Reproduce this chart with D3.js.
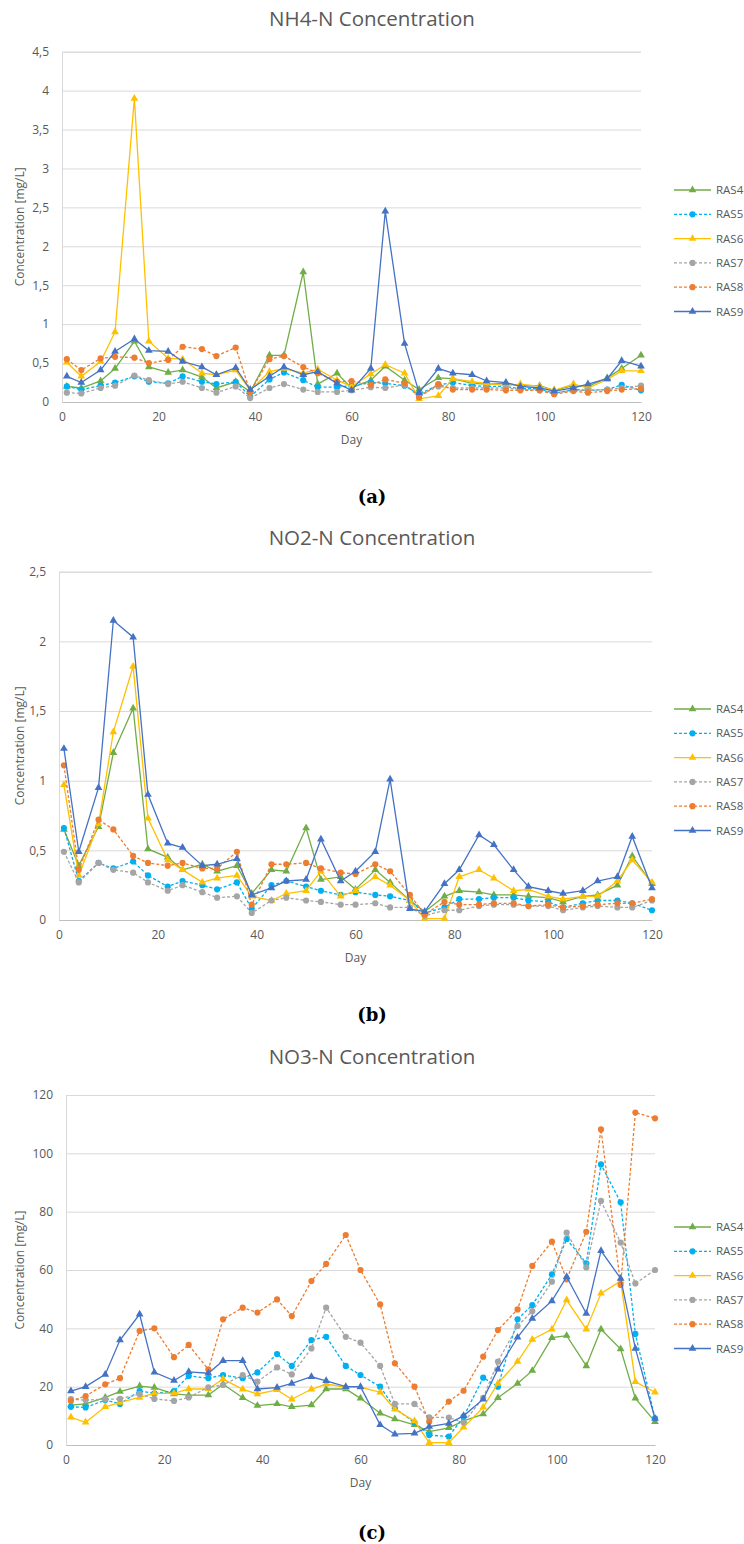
<!DOCTYPE html>
<html>
<head>
<meta charset="utf-8">
<script src="https://cdn.jsdelivr.net/npm/d3@7"></script>
<style>
  body { margin: 0; background: #fff; }
  svg  { display: block; font-family: "Open Sans", sans-serif; }
</style>
</head>
<body>
<svg id="fig" width="744" height="1544"></svg>
<script>
// sampling days (same for all three charts)
const days = [1,4,8,11,15,18,22,25,29,32,36,39,43,46,50,53,57,60,64,67,71,74,78,81,85,88,92,95,99,102,106,109,113,116,120];
const seriesNames = ['RAS4','RAS5','RAS6','RAS7','RAS8','RAS9'];
const xTicks = [0,20,40,60,80,100,120];

// (a) NH4-N
const nh4RAS4 = [0.20,0.18,0.27,0.43,0.78,0.45,0.38,0.41,0.32,0.18,0.26,0.13,0.60,0.60,1.67,0.23,0.37,0.18,0.28,0.46,0.28,0.16,0.31,0.30,0.24,0.23,0.24,0.21,0.21,0.15,0.21,0.20,0.31,0.43,0.60];
const nh4RAS5 = [0.20,0.16,0.21,0.25,0.33,0.26,0.24,0.33,0.26,0.23,0.26,0.07,0.29,0.38,0.28,0.19,0.19,0.21,0.25,0.24,0.21,0.10,0.22,0.25,0.21,0.20,0.20,0.17,0.17,0.11,0.16,0.15,0.16,0.22,0.15];
const nh4RAS6 = [0.51,0.33,0.52,0.90,3.90,0.78,0.56,0.55,0.37,0.35,0.41,0.15,0.39,0.43,0.37,0.42,0.28,0.20,0.36,0.48,0.37,0.04,0.08,0.30,0.26,0.24,0.21,0.23,0.20,0.15,0.23,0.18,0.29,0.40,0.40];
const nh4RAS7 = [0.12,0.11,0.18,0.21,0.34,0.28,0.23,0.26,0.18,0.12,0.20,0.05,0.18,0.23,0.16,0.13,0.13,0.15,0.19,0.18,0.22,0.09,0.20,0.18,0.18,0.18,0.18,0.16,0.15,0.12,0.15,0.15,0.16,0.18,0.21];
const nh4RAS8 = [0.55,0.41,0.56,0.58,0.57,0.50,0.54,0.71,0.68,0.59,0.70,0.13,0.55,0.59,0.45,0.37,0.26,0.27,0.22,0.29,0.24,0.06,0.23,0.16,0.16,0.16,0.15,0.15,0.15,0.10,0.14,0.12,0.14,0.16,0.17];
const nh4RAS9 = [0.33,0.25,0.41,0.65,0.81,0.66,0.65,0.52,0.45,0.35,0.44,0.16,0.33,0.45,0.35,0.39,0.24,0.15,0.43,2.45,0.75,0.12,0.43,0.37,0.35,0.27,0.25,0.20,0.18,0.14,0.18,0.23,0.30,0.53,0.46];
const nh4Ticks = [0,0.5,1,1.5,2,2.5,3,3.5,4,4.5];

// (b) NO2-N
const no2RAS4 = [0.65,0.39,0.67,1.20,1.52,0.51,0.45,0.36,0.40,0.35,0.39,0.19,0.36,0.35,0.66,0.29,0.31,0.22,0.36,0.27,0.14,0.06,0.17,0.21,0.20,0.18,0.18,0.17,0.16,0.13,0.17,0.18,0.25,0.46,0.26];
const no2RAS5 = [0.66,0.28,0.41,0.37,0.42,0.32,0.24,0.28,0.25,0.22,0.27,0.08,0.25,0.28,0.24,0.21,0.18,0.20,0.18,0.17,0.14,0.05,0.09,0.15,0.15,0.16,0.16,0.14,0.13,0.09,0.12,0.14,0.14,0.12,0.07];
const no2RAS6 = [0.97,0.32,0.69,1.35,1.82,0.73,0.43,0.36,0.27,0.30,0.32,0.17,0.14,0.19,0.21,0.35,0.17,0.21,0.31,0.25,0.14,0.01,0.01,0.31,0.36,0.30,0.21,0.22,0.17,0.15,0.17,0.17,0.28,0.43,0.27];
const no2RAS7 = [0.49,0.27,0.41,0.36,0.34,0.27,0.21,0.25,0.20,0.16,0.17,0.05,0.14,0.16,0.14,0.13,0.11,0.11,0.12,0.09,0.09,0.03,0.07,0.07,0.10,0.11,0.11,0.10,0.10,0.07,0.09,0.10,0.09,0.09,0.14];
const no2RAS8 = [1.11,0.36,0.72,0.65,0.46,0.41,0.39,0.41,0.37,0.37,0.49,0.11,0.40,0.40,0.41,0.37,0.34,0.33,0.40,0.35,0.18,0.04,0.13,0.11,0.11,0.12,0.12,0.10,0.11,0.09,0.10,0.11,0.12,0.12,0.15];
const no2RAS9 = [1.23,0.49,0.95,2.15,2.03,0.90,0.55,0.52,0.39,0.40,0.44,0.18,0.23,0.28,0.29,0.58,0.28,0.35,0.49,1.01,0.08,0.06,0.26,0.36,0.61,0.54,0.36,0.24,0.21,0.19,0.21,0.28,0.31,0.60,0.23];
const no2Ticks = [0,0.5,1,1.5,2,2.5];

// (c) NO3-N
const no3RAS4 = [13.7,14.1,16.3,18.3,20.2,19.7,17.5,17.1,17.1,20.8,16.2,13.5,14.1,13.1,13.7,19.2,19.2,16.0,10.9,8.9,6.9,4.6,5.9,8.3,10.6,16.2,21.1,25.5,36.8,37.5,27.1,39.7,32.9,16.0,8.0];
const no3RAS5 = [13.1,12.9,15.4,14.1,18.5,17.7,18.5,23.7,22.9,24.0,22.9,24.9,31.2,27.1,36.0,37.1,27.1,24.0,20.0,12.6,7.7,3.4,2.9,9.7,23.1,20.0,43.1,48.0,58.5,70.6,62.3,96.2,83.2,38.1,9.1];
const no3RAS6 = [9.5,7.8,13.1,14.6,16.3,17.7,17.7,19.2,19.2,22.6,19.1,17.5,18.9,15.7,19.1,20.9,19.8,19.8,18.1,12.3,8.2,0.8,0.8,6.1,12.9,21.1,28.6,36.2,39.7,49.7,39.7,52.0,56.2,21.7,18.1];
const no3RAS7 = [15.7,15.4,15.7,15.8,17.5,15.8,15.1,16.3,19.8,20.6,24.0,21.7,26.6,24.2,33.1,47.1,37.1,35.1,27.1,14.1,14.1,9.5,9.4,7.7,16.2,28.6,40.8,45.9,56.0,72.8,60.9,83.7,69.4,55.4,60.0];
const no3RAS8 = [15.1,16.8,20.8,22.9,39.1,40.0,30.1,34.3,25.9,43.1,47.1,45.4,49.9,44.2,56.2,62.1,72.0,60.0,48.2,28.0,20.0,8.0,14.9,18.6,30.3,39.4,46.5,61.4,69.7,56.8,73.1,108.2,54.9,114.0,112.0];
const no3RAS9 = [18.5,20.0,24.2,36.0,44.8,24.9,22.1,25.1,24.6,28.9,28.9,19.2,19.7,21.1,23.4,22.0,20.0,20.0,6.9,3.7,4.0,6.3,7.4,10.0,15.7,26.0,36.9,43.4,49.4,57.7,45.1,66.6,57.1,33.1,9.1];
const no3Ticks = [0,20,40,60,80,100,120];

// series look (Excel default palette)
const seriesStyle = {
  RAS4: { color: '#70ad47', dash: null,  shape: d3.symbolTriangle },
  RAS5: { color: '#00b0f0', dash: '3,2', shape: d3.symbolCircle },
  RAS6: { color: '#ffc000', dash: null,  shape: d3.symbolTriangle },
  RAS7: { color: '#a5a5a5', dash: '3,2', shape: d3.symbolCircle },
  RAS8: { color: '#ed7d31', dash: '3,2', shape: d3.symbolCircle },
  RAS9: { color: '#4472c4', dash: null,  shape: d3.symbolTriangle },
};

const charts = [
  { title: 'NH4-N Concentration', caption: '(a)', ticks: nh4Ticks,
    series: [nh4RAS4, nh4RAS5, nh4RAS6, nh4RAS7, nh4RAS8, nh4RAS9],
    x0: 62, x1: 641, y0: 402, y1: 51.7, titleY: 19, captionY: 497, legendY: 190 },
  { title: 'NO2-N Concentration', caption: '(b)', ticks: no2Ticks,
    series: [no2RAS4, no2RAS5, no2RAS6, no2RAS7, no2RAS8, no2RAS9],
    x0: 59, x1: 652, y0: 920, y1: 571.7, titleY: 538, captionY: 1015, legendY: 709 },
  { title: 'NO3-N Concentration', caption: '(c)', ticks: no3Ticks,
    series: [no3RAS4, no3RAS5, no3RAS6, no3RAS7, no3RAS8, no3RAS9],
    x0: 66, x1: 655, y0: 1445, y1: 1095, titleY: 1057, captionY: 1533, legendY: 1227 },
];

const svg = d3.select('#fig');
const textColor = '#595959';
const fmt = d => String(d).replace('.', ',');

const drawChart = c => {
  const g = svg.append('g');
  const x = d3.scaleLinear().domain([0, 120]).range([c.x0, c.x1]);
  const y = d3.scaleLinear().domain([0, d3.max(c.ticks)]).range([c.y0, c.y1]);

  g.append('text')
    .attr('x', 372).attr('y', c.titleY).attr('dy', '0.35em')
    .attr('text-anchor', 'middle')
    .attr('font-size', 20.5).attr('fill', textColor)
    .text(c.title);

  // gridlines + y labels
  const yAxis = g.append('g')
    .attr('transform', `translate(${c.x0},0)`)
    .call(d3.axisLeft(y).tickValues(c.ticks).tickFormat(fmt)
      .tickSize(-(c.x1 - c.x0)).tickPadding(13));
  yAxis.select('.domain').attr('stroke', '#d9d9d9');
  yAxis.selectAll('.tick line').attr('stroke', '#d9d9d9');
  yAxis.selectAll('.tick text')
    .attr('fill', textColor).attr('font-size', 12)
    .attr('font-family', '"Open Sans", sans-serif');

  // x axis
  const xAxis = g.append('g')
    .attr('transform', `translate(0,${c.y0})`)
    .call(d3.axisBottom(x).tickValues(xTicks).tickSize(0).tickPadding(10));
  xAxis.select('.domain').attr('stroke', '#bfbfbf');
  xAxis.selectAll('.tick text')
    .attr('fill', textColor).attr('font-size', 12)
    .attr('font-family', '"Open Sans", sans-serif');

  g.append('text')
    .attr('x', (c.x0 + c.x1) / 2).attr('y', c.y0 + 38).attr('dy', '0.35em')
    .attr('text-anchor', 'middle').attr('font-size', 12).attr('fill', textColor)
    .text('Day');

  g.append('text')
    .attr('transform', `translate(20,${(c.y0 + c.y1) / 2}) rotate(-90)`)
    .attr('dy', '0.35em')
    .attr('text-anchor', 'middle').attr('font-size', 12).attr('fill', textColor)
    .text('Concentration [mg/L]');

  const line = d3.line().x((d, i) => x(days[i])).y(d => y(d));

  c.series.forEach((values, k) => {
    const st = seriesStyle[seriesNames[k]];
    g.append('path')
      .datum(values)
      .attr('fill', 'none')
      .attr('stroke', st.color)
      .attr('stroke-width', 1.3)
      .attr('stroke-dasharray', st.dash)
      .attr('d', line);

    g.selectAll(null)
      .data(values)
      .join('path')
      .attr('transform', (d, i) => `translate(${x(days[i])},${y(d)})`)
      .attr('d', d3.symbol(st.shape, st.shape === d3.symbolCircle ? 30 : 26))
      .attr('fill', st.color);
  });

  // legend
  const leg = g.append('g');
  seriesNames.forEach((name, k) => {
    const st = seriesStyle[name];
    const ly = c.legendY + k * 24.3;
    leg.append('line')
      .attr('x1', 674).attr('x2', 711).attr('y1', ly).attr('y2', ly)
      .attr('stroke', st.color).attr('stroke-width', 1.3)
      .attr('stroke-dasharray', st.dash);
    leg.append('path')
      .attr('transform', `translate(692.5,${ly})`)
      .attr('d', d3.symbol(st.shape, st.shape === d3.symbolCircle ? 30 : 26))
      .attr('fill', st.color);
    leg.append('text')
      .attr('x', 716).attr('y', ly).attr('dy', '0.35em')
      .attr('font-size', 11.5).attr('fill', textColor)
      .text(name);
  });

  g.append('text')
    .attr('x', 372).attr('y', c.captionY).attr('dy', '0.35em')
    .attr('text-anchor', 'middle')
    .attr('font-family', '"DejaVu Serif", serif').attr('font-weight', 'bold')
    .attr('font-size', 18).attr('fill', '#000')
    .text(c.caption);
};

charts.forEach(drawChart);
</script>
</body>
</html>
